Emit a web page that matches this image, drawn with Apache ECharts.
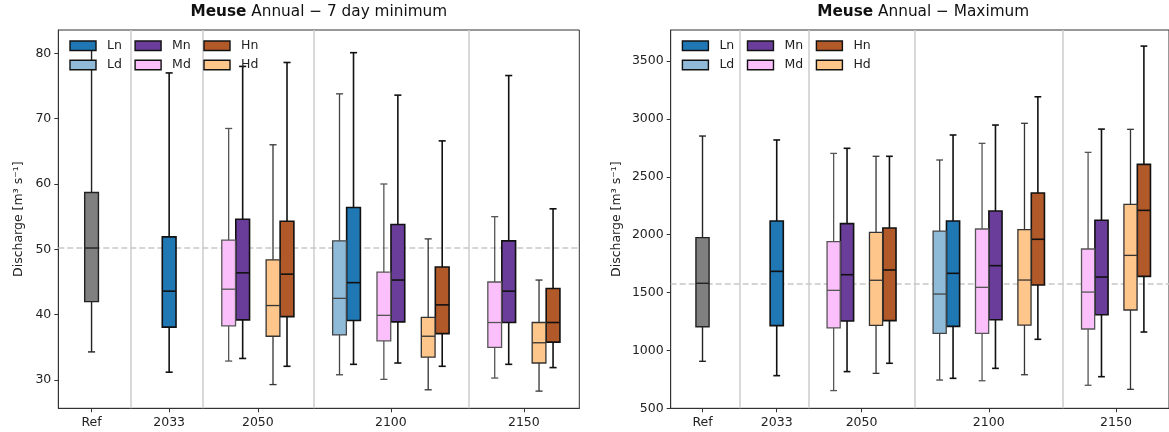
<!DOCTYPE html>
<html><head><meta charset="utf-8">
<script src="https://cdn.jsdelivr.net/npm/echarts@6/dist/echarts.min.js"></script>
<style>html,body{margin:0;padding:0;background:#fff}#c{width:1169px;height:432px}</style>
</head><body><div id="c"></div>
<script>
// ---------------- DATA ----------------
const periods = ['Ref', '2033', '2050', '2100', '2150'];
const scenarios = ['Ref', 'Ln', 'Ld', 'Mn', 'Md', 'Hn', 'Hd'];
// Box statistics [min, Q1, median, Q3, max], one entry per period (null = not present)
// Meuse annual 7-day minimum discharge
const min7_Ref = [[34.3, 42.0, 50.2, 58.7, 80.9], null, null, null, null];
const min7_Ln  = [null, [31.2, 38.1, 43.6, 51.9, 77.0], null, [32.4, 39.1, 44.9, 56.4, 80.1], null];
const min7_Ld  = [null, null, null, [30.8, 36.9, 42.5, 51.3, 73.8], null];
const min7_Mn  = [null, null, [33.3, 39.2, 46.4, 54.6, 78.0], [32.6, 38.9, 45.3, 53.8, 73.6], [32.4, 38.8, 43.6, 51.3, 76.6]];
const min7_Md  = [null, null, [32.9, 38.3, 43.9, 51.4, 68.5], [30.1, 36.0, 39.9, 46.5, 60.0], [30.3, 35.0, 38.8, 45.0, 55.0]];
const min7_Hn  = [null, null, [32.1, 39.7, 46.2, 54.3, 78.6], [32.1, 37.1, 41.5, 47.3, 66.6], [31.9, 35.8, 38.8, 44.0, 56.2]];
const min7_Hd  = [null, null, [29.3, 36.7, 41.4, 48.4, 66.0], [28.5, 33.5, 36.7, 39.6, 51.6], [28.3, 32.6, 35.7, 38.8, 45.3]];
// Meuse annual maximum discharge
const max_Ref = [[906, 1205, 1580, 1974, 2852], null, null, null, null];
const max_Ln  = [null, [782, 1214, 1683, 2118, 2818], null, [759, 1208, 1666, 2118, 2861], null];
const max_Ld  = [null, null, null, [744, 1148, 1487, 2031, 2645], null];
const max_Mn  = [null, null, [817, 1254, 1654, 2095, 2746], [845, 1265, 1732, 2204, 2947], [773, 1308, 1634, 2124, 2912]];
const max_Md  = [null, null, [653, 1194, 1519, 1940, 2702], [738, 1148, 1545, 2049, 2789], [699, 1185, 1504, 1876, 2711]];
const max_Hn  = [null, null, [889, 1257, 1695, 2058, 2677], [1096, 1565, 1960, 2360, 3191], [1159, 1640, 2210, 2607, 3629]];
const max_Hd  = [null, null, [802, 1217, 1606, 2020, 2677], [790, 1219, 1608, 2043, 2962], [664, 1349, 1821, 2262, 2910]];
// reference (Ref median) lines
const refLine7 = 50.2;
const refLineMax = 1580;
// tick labels
const yTicks7 = [30, 40, 50, 60, 70, 80];
const yTicksMax = [500, 1000, 1500, 2000, 2500, 3000, 3500];
const titles = [['Meuse', 'Annual \u2212 7 day minimum'], ['Meuse', 'Annual \u2212 Maximum']];
const yName = 'Discharge [m\u00b3 s\u207b\u00b9]';

// ---------------- LAYOUT ----------------
const periodPos = [0.75, 2.5, 4.5, 7.5, 10.5];          // x tick positions (axis units)
const familyPos = [{R: 0.75}, {L: 2.5}, {M: 4, H: 5}, {L: 6.5, M: 7.5, H: 8.5}, {M: 10, H: 11}];
const separators = [1.625, 3.25, 5.75, 9.25];
const X_MAX = 11.75;
const BOX_W = 0.31, CAP_W = 0.16, PAIR_OFF = 0.158;

const colors = {Ref: '#808080', Ln: '#1f77b4', Ld: '#8fbbd9', Mn: '#6a3d9a', Md: '#fbc0fb', Hn: '#b15928', Hd: '#fec68a'};
const edge = {Ref: ['#222', 1.4], Ln: ['#111', 1.6], Ld: ['#444', 1.3], Mn: ['#111', 1.6], Md: ['#555', 1.3], Hn: ['#111', 1.6], Hd: ['#333', 1.3]};

const sets = [
  {Ref: min7_Ref, Ln: min7_Ln, Ld: min7_Ld, Mn: min7_Mn, Md: min7_Md, Hn: min7_Hn, Hd: min7_Hd},
  {Ref: max_Ref, Ln: max_Ln, Ld: max_Ld, Mn: max_Mn, Md: max_Md, Hn: max_Hn, Hd: max_Hd}
];

function buildData(set, name) {
  const fam = name === 'Ref' ? 'R' : name[0];
  const out = [];
  set[name].forEach((st, i) => {
    if (!st) return;
    let x = familyPos[i][fam];
    if (name !== 'Ref') {
      const partner = fam + (name[1] === 'n' ? 'd' : 'n');
      const paired = set[partner] && set[partner][i];
      if (paired) x += (name[1] === 'n' ? PAIR_OFF : -PAIR_OFF);
    }
    out.push([x].concat(st));
  });
  return out;
}

function makeRender(name) {
  const fill = colors[name], ec = edge[name][0], lw = edge[name][1];
  return function (params, api) {
    const x = api.value(0), mn = api.value(1), q1 = api.value(2), md = api.value(3), q3 = api.value(4), mx = api.value(5);
    const a = api.coord([x - BOX_W / 2, q3]);
    const b = api.coord([x + BOX_W / 2, q1]);
    const pm = api.coord([x, md]);
    const pMin = api.coord([x, mn]), pMax = api.coord([x, mx]);
    const cL = api.coord([x - CAP_W / 2, mn])[0], cR = api.coord([x + CAP_W / 2, mn])[0];
    const ls = {stroke: ec, lineWidth: lw};
    return {type: 'group', children: [
      {type: 'line', shape: {x1: pMin[0], y1: b[1], x2: pMin[0], y2: pMin[1]}, style: ls},
      {type: 'line', shape: {x1: pMax[0], y1: a[1], x2: pMax[0], y2: pMax[1]}, style: ls},
      {type: 'line', shape: {x1: cL, y1: pMin[1], x2: cR, y2: pMin[1]}, style: ls},
      {type: 'line', shape: {x1: cL, y1: pMax[1], x2: cR, y2: pMax[1]}, style: ls},
      {type: 'rect', shape: {x: a[0], y: a[1], width: b[0] - a[0], height: b[1] - a[1]}, style: {fill: fill, stroke: ec, lineWidth: lw}},
      {type: 'line', shape: {x1: a[0], y1: pm[1], x2: b[0], y2: pm[1]}, style: ls}
    ]};
  };
}

const grids = [
  {left: 58.3, top: 30, width: 521, height: 378.3},
  {left: 670.7, top: 30, width: 505, height: 378.3}
];
const yRanges = [[25.67, 83.57], [500, 3768]];
const yTicks = [yTicks7, yTicksMax];
const refLines = [refLine7, refLineMax];
const nameGaps = [33, 47];
const FONT = 'DejaVu Sans';

const option = {
  animation: false,
  backgroundColor: '#fff',
  textStyle: {fontFamily: FONT},
  grid: grids.map(g => Object.assign({show: true, borderColor: '#333', borderWidth: 1, backgroundColor: 'transparent'}, g)),
  title: grids.map((g, i) => ({
    text: '{b|' + titles[i][0] + '} ' + titles[i][1],
    left: g.left + g.width / 2, textAlign: 'center', top: 5, padding: 0,
    textStyle: {fontFamily: FONT, fontSize: 15.3, fontWeight: 'normal', color: '#111',
      rich: {b: {fontFamily: FONT, fontSize: 15.3, fontWeight: 'bold', color: '#111'}}}
  })),
  xAxis: grids.map((g, i) => ({
    type: 'value', gridIndex: i, min: 0, max: X_MAX,
    axisLine: {show: true, lineStyle: {color: '#333', width: 1}},
    axisTick: {show: true, customValues: periodPos, length: 4, lineStyle: {color: '#333'}},
    axisLabel: {customValues: periodPos, margin: 8, fontSize: 12.5, color: '#222', fontFamily: FONT,
      formatter: v => periods[periodPos.findIndex(p => Math.abs(p - v) < 1e-6)] || ''},
    splitLine: {show: false}
  })),
  yAxis: grids.map((g, i) => ({
    type: 'value', gridIndex: i, min: yRanges[i][0], max: yRanges[i][1],
    name: yName, nameLocation: 'middle', nameGap: nameGaps[i],
    nameTextStyle: {fontSize: 12.5, color: '#222', fontFamily: FONT},
    axisLine: {show: true, lineStyle: {color: '#333', width: 1}},
    axisTick: {show: true, customValues: yTicks[i], length: 4, lineStyle: {color: '#333'}},
    axisLabel: {customValues: yTicks[i], margin: 7, fontSize: 12.5, color: '#222', fontFamily: FONT,
      formatter: v => String(v)},
    splitLine: {show: false}
  })),
  legend: [],
  series: []
};

// legends: two rows per panel
const legendRows = [['Ln', 'Mn', 'Hn'], ['Ld', 'Md', 'Hd']];
const legendTops = [39.3, 58.5];
grids.forEach((g, i) => {
  legendRows.forEach((row, r) => {
    option.legend.push({
      left: g.left + 11, top: legendTops[r], padding: 0, orient: 'horizontal', z: 10,
      itemWidth: 26, itemHeight: 9.5, itemGap: 12.5, selectedMode: false,
      textStyle: {fontSize: 12.5, color: '#222', fontFamily: FONT, width: 30, padding: [0, 0, 0, 6]},
      data: row.map(n => ({name: n, icon: 'rect', itemStyle: {color: colors[n], borderColor: '#111', borderWidth: 1.4}}))
    });
  });
});

grids.forEach((g, i) => {
  // background guide lines
  option.series.push({
    type: 'line', xAxisIndex: i, yAxisIndex: i, data: [], silent: true, z: 1,
    markLine: {
      silent: true, z: 1, symbol: ['none', 'none'], label: {show: false}, animation: false,
      data: separators.map(s => ({xAxis: s, lineStyle: {color: '#cccccc', width: 1.5, type: 'solid'}}))
        .concat([{yAxis: refLines[i], lineStyle: {color: '#c8c8c8', width: 1.5, type: [6, 3]}}])
    }
  });
  scenarios.forEach(name => {
    option.series.push({
      type: 'custom', name: name, xAxisIndex: i, yAxisIndex: i, z: 3,
      itemStyle: {color: colors[name], borderColor: edge[name][0]},
      encode: {x: 0, y: [1, 2, 3, 4, 5]},
      renderItem: makeRender(name),
      data: buildData(sets[i], name)
    });
  });
});

const chart = echarts.init(document.getElementById('c'), null, {renderer: 'canvas'});
chart.setOption(option);
</script>
</body></html>
